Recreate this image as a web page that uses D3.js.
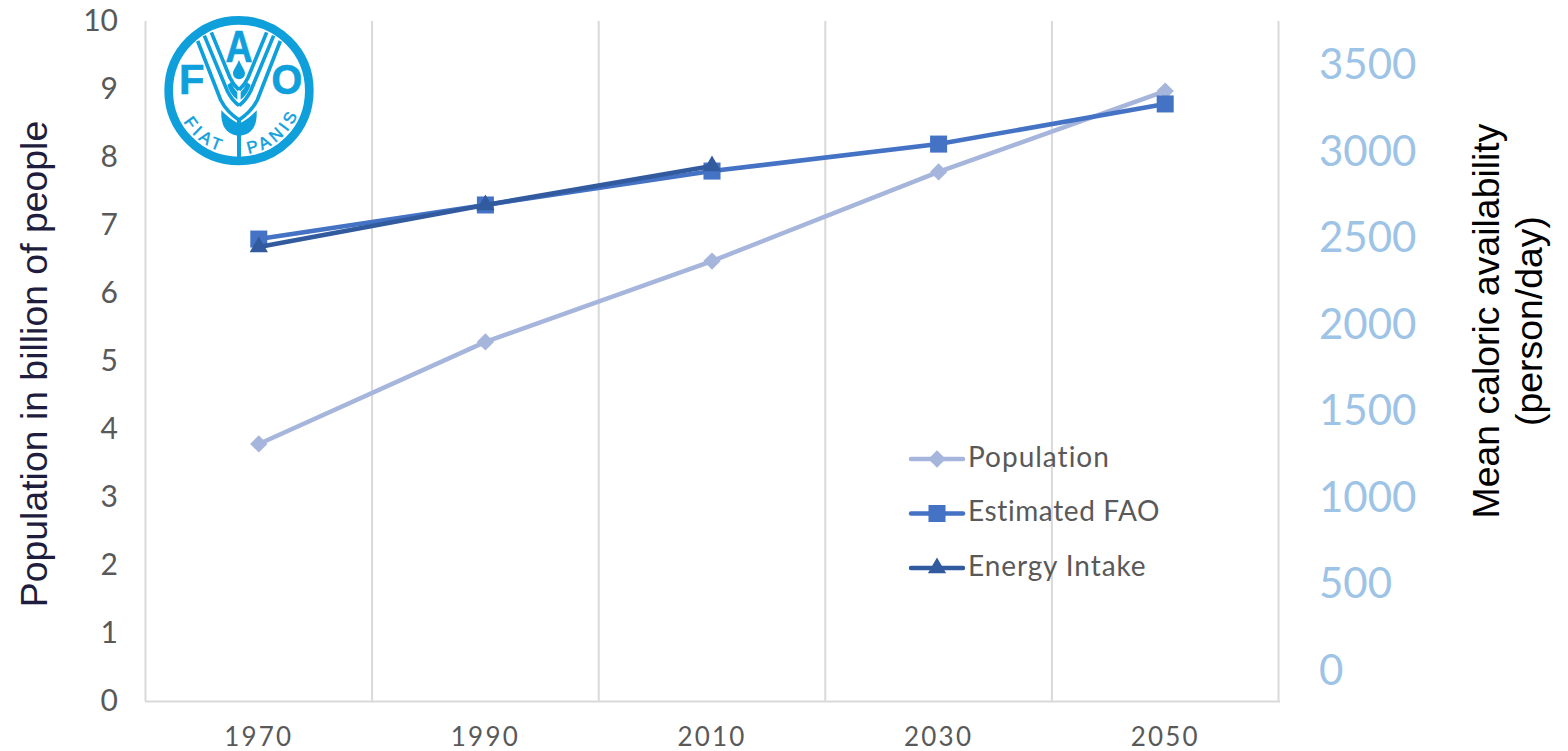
<!DOCTYPE html>
<html><head><meta charset="utf-8">
<script src="https://cdn.jsdelivr.net/npm/d3@7"></script>
<style>
html,body{margin:0;padding:0;background:#fff;overflow:hidden}
svg{display:block}
</style></head><body>
<svg id="c" width="1568" height="751"></svg>
<script>
const years = ["1970","1990","2010","2030","2050"];
const population = [3.78,5.28,6.47,7.78,8.97];
const estimatedFAO = [2491,2688,2884,3040,3272];
const energyIntake = [2445,2688,2913];
const leftTicks = [0,1,2,3,4,5,6,7,8,9,10];
const rightTicks = [0,500,1000,1500,2000,2500,3000,3500];
const legendNames = ["Population","Estimated FAO","Energy Intake"];

const svg = d3.select("#c");
const x = d3.scaleBand().domain(years).range([145.5,1278.5]);
const yL = d3.scaleLinear().domain([0,10]).range([701,21]);
const yR = d3.scaleLinear().domain([0,3500]).range([670,64.5]);
const cx = d => x(d)+x.bandwidth()/2;
const grey="#d9d9d9", txt="#595959", calibri="Lato, Carlito, 'Open Sans', sans-serif";
const arial="'Liberation Sans',Arial,sans-serif";

const bounds = years.map(d=>x(d)).concat([x.range()[1]]);
svg.append("g").selectAll("line").data(bounds).join("line")
  .attr("x1",d=>d).attr("x2",d=>d).attr("y1",yL(10)).attr("y2",yL(0))
  .attr("stroke",grey).attr("stroke-width",2);
svg.append("line").attr("x1",145).attr("x2",1280).attr("y1",yL(0)+.5).attr("y2",yL(0)+.5)
  .attr("stroke",grey).attr("stroke-width",2);

const gL = svg.append("g").attr("transform","translate(118,0)")
  .call(d3.axisLeft(yL).tickValues(leftTicks).tickSize(0).tickPadding(0));
gL.select(".domain").remove();
gL.selectAll("text").attr("font-family",calibri).attr("font-size",30).attr("fill",txt).attr("dy",".32em");

const gB = svg.append("g").attr("transform","translate(0,737)")
  .call(d3.axisBottom(x).tickSize(0).tickPadding(0));
gB.select(".domain").remove();
gB.selectAll("text").attr("font-family",calibri).attr("font-size",26).attr("fill",txt)
  .attr("letter-spacing",2.2).attr("dy",".34em").attr("y",0);

const gR = svg.append("g").attr("transform","translate(1319,0)")
  .call(d3.axisRight(yR).tickValues(rightTicks).tickSize(0).tickPadding(0).tickFormat(d3.format("d")));
gR.select(".domain").remove();
gR.selectAll("text").attr("font-family",calibri).attr("font-size",42).attr("fill","#9dc3e6").attr("dy",".34em").attr("x",0);

svg.append("text").attr("transform","translate(47,364) rotate(-90)").attr("text-anchor","middle")
  .attr("font-family",arial).attr("font-size",37.4).attr("fill","#1f1d3d")
  .text("Population in billion of people");
const rt = svg.append("text").attr("transform","rotate(-90)").attr("text-anchor","middle")
  .attr("font-family",arial).attr("font-size",37.4).attr("fill","#000");
rt.append("tspan").attr("x",-321).attr("y",1499).text("Mean caloric availability");
rt.append("tspan").attr("x",-321).attr("y",1542).text("(person/day)");

const wideDiamond = {draw(ctx,size){const r=Math.sqrt(size/2);ctx.moveTo(0,-r);ctx.lineTo(r,0);ctx.lineTo(0,r);ctx.lineTo(-r,0);ctx.closePath();}};
const series = [
 {name:legendNames[0],vals:population,scale:yL,color:"#a5b5dc",sym:wideDiamond,size:150},
 {name:legendNames[1],vals:estimatedFAO,scale:yR,color:"#4472c4",sym:d3.symbolSquare,size:290},
 {name:legendNames[2],vals:energyIntake,scale:yR,color:"#315a9f",sym:d3.symbolTriangle,size:145}
];
const symPath = s => d3.symbol().type(s.sym).size(s.size)();
series.forEach(s=>{
  const pts = s.vals.map((v,i)=>[cx(years[i]),s.scale(v)]);
  svg.append("path").attr("d",d3.line()(pts)).attr("fill","none").attr("stroke",s.color)
    .attr("stroke-width",4.5).attr("stroke-linecap","round");
  svg.append("g").selectAll("path").data(pts).join("path").attr("d",symPath(s))
    .attr("transform",p=>`translate(${p[0]},${p[1]})`).attr("fill",s.color);
});

const legY = d3.scalePoint().domain(legendNames).range([459,568]);
series.forEach(s=>{
  const g = svg.append("g").attr("transform",`translate(0,${legY(s.name)})`);
  g.append("line").attr("x1",911).attr("x2",963).attr("stroke",s.color).attr("stroke-width",4.5).attr("stroke-linecap","round");
  g.append("path").attr("d",symPath(s)).attr("transform","translate(937,0)").attr("fill",s.color);
  g.append("text").attr("x",968).attr("y",-2).attr("dy",".35em").attr("font-family",calibri).attr("font-size",28)
    .attr("letter-spacing",s.name===legendNames[0]?1.0:(s.name===legendNames[1]?0.6:0.9)).attr("fill",txt).text(s.name);
});

// FAO logo (units of a 3x crop)
const blue="#0fa0dc";
const logo = svg.append("g").attr("transform","translate(150,5) scale(0.3333)");
logo.append("circle").attr("cx",267).attr("cy",257).attr("r",211).attr("fill","#fff").attr("stroke",blue).attr("stroke-width",26);
[1,-1].forEach(m=>{
  const g = logo.append("g").attr("transform",m===1?null:"translate(534,0) scale(-1,1)");
  const st = d=>g.append("path").attr("d",d).attr("fill","none").attr("stroke",blue).attr("stroke-width",11);
  st("M143,108 L212,285 Q230,320 267,345");
  st("M163,92 L232,258 Q245,285 267,302");
  st("M184,82 L240,218 Q250,240 267,255");
  g.append("path").attr("d","M243,232 Q250,250 262,262 L262,284 Q240,268 232,240 Z").attr("fill",blue);
  g.append("path").attr("d","M214,316 Q238,342 263,354 L263,392 Q210,385 214,316 Z").attr("fill",blue);
});
logo.append("path").attr("d","M267,165 C275,185 285,195 285,205 A18,18 0 0 1 249,205 C249,195 259,185 267,165 Z").attr("fill",blue);
logo.append("rect").attr("x",261).attr("y",345).attr("width",12).attr("height",120).attr("fill",blue);
const lt = (t,xx,yy,fs,sx)=>logo.append("text").attr("transform",`translate(${xx},${yy}) scale(${sx},1)`).attr("text-anchor","middle")
  .attr("font-family",arial).attr("font-weight","700").attr("font-size",fs).attr("fill",blue).attr("stroke",blue).attr("stroke-width",2).text(t);
lt("A",267,170,132,0.85);
lt("F",125,268,125,1);
lt("O",411,268,125,0.95);
logo.append("defs").append("path").attr("id","arc").attr("d","M77,257 A190,190 0 0 0 457,257");
[["FIAT","29%"],["PANIS","72%"]].forEach(([t,o])=>{
  logo.append("text").attr("font-family",arial).attr("font-size",50).attr("fill",blue)
    .attr("stroke",blue).attr("stroke-width",1.5)
    .attr("letter-spacing",12).attr("text-anchor","middle")
    .append("textPath").attr("href","#arc").attr("startOffset",o).text(t);
});
</script></body></html>
